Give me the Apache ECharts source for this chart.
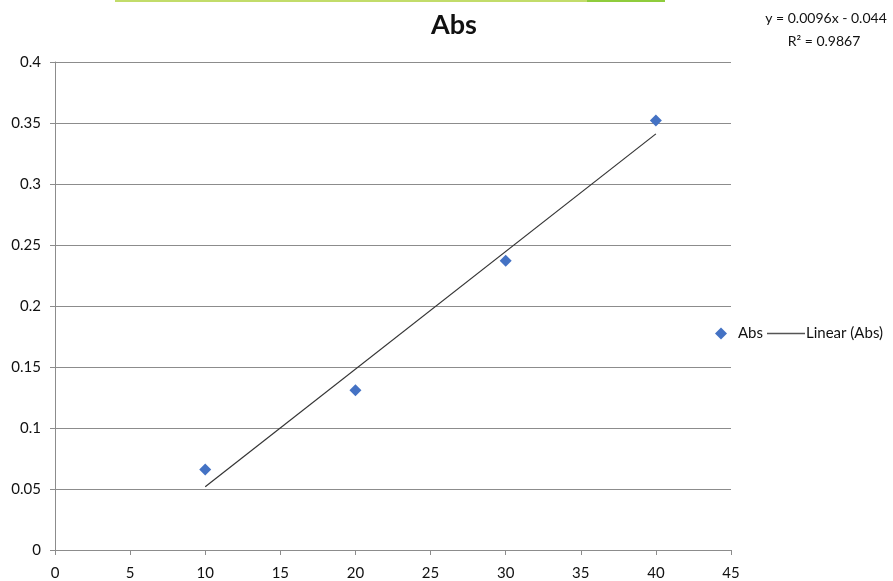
<!DOCTYPE html>
<html><head><meta charset="utf-8">
<script src="https://cdn.jsdelivr.net/npm/echarts@6/dist/echarts.min.js"></script>
<style>html,body{margin:0;padding:0;background:#fff}#c{width:893px;height:581px}</style>
</head><body><div id="c"></div>
<script>
const xValues = [10, 20, 30, 40];
const absValues = [0.066, 0.131, 0.237, 0.352];
const xTicks = [0, 5, 10, 15, 20, 25, 30, 35, 40, 45];
const yTicks = [0, 0.05, 0.1, 0.15, 0.2, 0.25, 0.3, 0.35, 0.4];
const titleText = 'Abs';
const equationLines = ['y = 0.0096x - 0.044', 'R\u00b2 = 0.9867'];

// least squares trendline from the data
const n = xValues.length;
const mx = xValues.reduce((a,b)=>a+b,0)/n;
const my = absValues.reduce((a,b)=>a+b,0)/n;
let sxy=0, sxx=0;
for(let i=0;i<n;i++){sxy+=(xValues[i]-mx)*(absValues[i]-my);sxx+=(xValues[i]-mx)**2;}
const slope = sxy/sxx, intercept = my - slope*mx;
const xMin = Math.min(...xValues), xMax = Math.max(...xValues);
const trend = [[xMin, slope*xMin+intercept],[xMax, slope*xMax+intercept]];

const font = 'Lato, "Open Sans", sans-serif';
const chart = echarts.init(document.getElementById('c'));
chart.setOption({
  animation:false,
  title:{text:titleText,left:449,top:7,textAlign:'center',textStyle:{fontFamily:font,fontSize:27,fontWeight:'bold',color:'#111'}},
  grid:{left:55,right:162,top:62,bottom:29,containLabel:false},
  legend:[
    {left:710,top:321,itemWidth:12,itemHeight:12,itemGap:6,textStyle:{fontFamily:font,fontSize:15,color:'#111',padding:[0,0,0,6]},
      data:[{name:'Abs',icon:'diamond'}]},
    {left:762,top:321,itemWidth:38,itemHeight:1.3,icon:'rect',textStyle:{fontFamily:font,fontSize:15,color:'#111',padding:[0,0,0,-4]},
      data:[{name:'Linear (Abs)',icon:'rect'}]}
  ],
  xAxis:{type:'value',min:xTicks[0],max:xTicks[xTicks.length-1],interval:5,
    axisLine:{lineStyle:{color:'#8c8c8c'}},axisTick:{show:true,length:5,lineStyle:{color:'#8c8c8c'}},
    axisLabel:{fontFamily:font,fontSize:15,color:'#111',margin:16},splitLine:{show:false}},
  yAxis:{type:'value',min:yTicks[0],max:yTicks[yTicks.length-1],interval:0.05,
    axisLine:{show:true,lineStyle:{color:'#8c8c8c'}},axisTick:{show:true,length:5,lineStyle:{color:'#8c8c8c'}},
    axisLabel:{fontFamily:font,fontSize:15,color:'#111',margin:14,formatter:v=>String(+v.toFixed(2))},
    splitLine:{show:true,lineStyle:{color:'#8c8c8c',width:1}}},
  series:[
    {name:'Abs',type:'scatter',symbol:'diamond',symbolSize:12,itemStyle:{color:'#4472c4',opacity:1},
      data:xValues.map((x,i)=>[x,absValues[i]]),z:3},
    {name:'Linear (Abs)',type:'line',data:trend,symbol:'none',showSymbol:false,
      lineStyle:{color:'#333',width:1.2},itemStyle:{color:'#555'},z:2}
  ],
  graphic:[
    {type:'rect',shape:{x:115,y:0,width:472,height:2},style:{fill:'#c2dc6a'}},
    {type:'rect',shape:{x:587,y:0,width:78,height:2},style:{fill:'#8fcc3c'}},
    {type:'text',style:{x:826,y:11,text:equationLines[0],textAlign:'center',font:'14px '+font,fill:'#111'}},
    {type:'text',style:{x:824,y:34,text:equationLines[1],textAlign:'center',font:'14px '+font,fill:'#111'}}
  ]
});
</script></body></html>
